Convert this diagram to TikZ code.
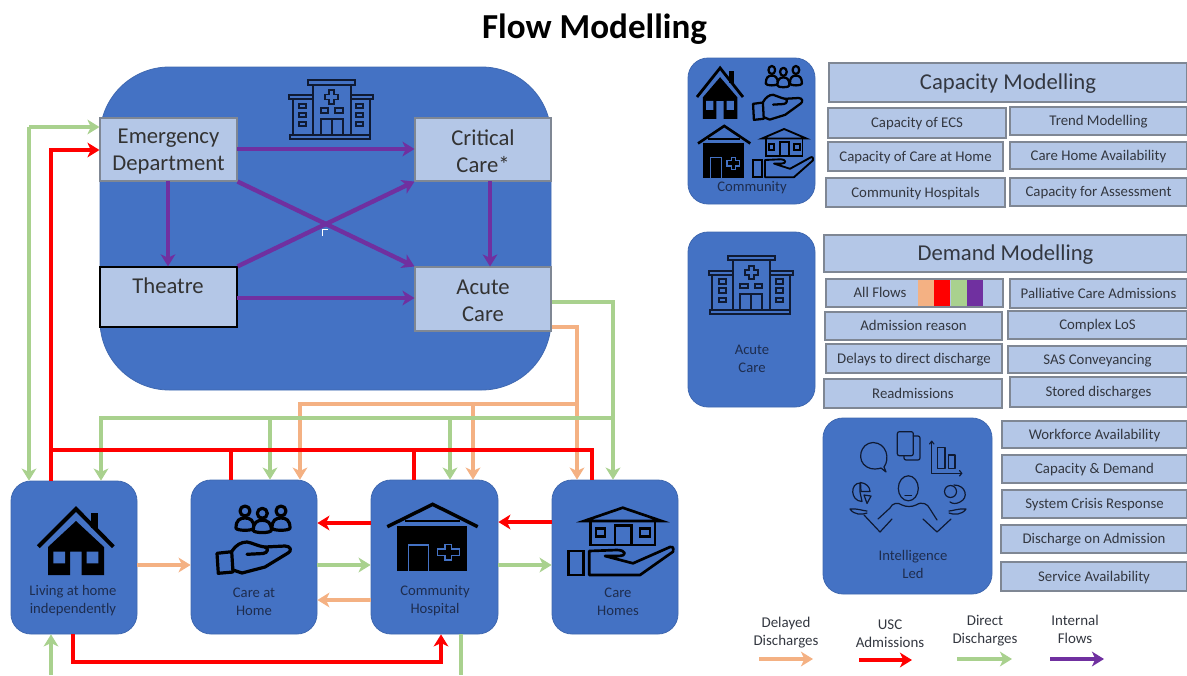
\documentclass[tikz,border=0pt]{standalone}
\usepackage{fontspec}
\setmainfont{Carlito}
\usetikzlibrary{arrows.meta}
\definecolor{panelblue}{HTML}{4472C4}
\definecolor{panelline}{HTML}{3F68B0}
\definecolor{lightblue}{HTML}{B4C7E7}
\definecolor{boxline}{HTML}{7F8794}
\definecolor{flowdelay}{HTML}{F4B183}
\definecolor{flowusc}{HTML}{FF0000}
\definecolor{flowdirect}{HTML}{A9D18E}
\definecolor{flowinternal}{HTML}{7030A0}
\definecolor{boxtext}{HTML}{333740}
\definecolor{paneltext}{HTML}{1E2D4F}
\definecolor{iconline}{HTML}{0F1A33}
\newcommand\bx[7]{\node[#2,minimum width={(#5-#3)*0.75pt},minimum height={(#6-#4)*0.75pt}] (#1) at ({(#3+#5)/2},{(#4+#6)/2}) {#7};}
\newcommand\bustglyph[2]{%
  \begin{scope}[shift={(#1,#2)}]
    \draw[fill=panelblue] (-9,17) .. controls (-9,9) and (-5,7) .. (0,7) .. controls (5,7) and (9,9) .. (9,17) .. controls (9,20) and (-9,20) .. (-9,17) -- cycle;
    \draw[fill=panelblue] (0,0) circle[radius=5];
  \end{scope}}
\tikzset{
  panel/.style={draw=panelline,line width=.6pt,fill=panelblue,rounded corners=15pt,inner sep=0pt},
  bigpanel/.style={panel,rounded corners=52pt},
  lightbox/.style={draw=boxline,line width=.9pt,fill=lightblue,inner sep=0pt,align=center,text=boxtext,text height=8pt,text depth=1pt,font=\fontsize{11.1}{12}\selectfont},
  headbox/.style={lightbox,text height=11pt,text depth=1pt,font=\fontsize{17}{18}\selectfont},
  carebox/.style={draw=boxline,line width=.8pt,fill=lightblue,inner sep=0pt,align=center,text=black!80,text height=34pt,font=\fontsize{17}{20.3}\selectfont},
  blackbox/.style={carebox,draw=black,line width=1pt},
  panellabel/.style={align=center,text=paneltext,inner sep=0pt,font=\fontsize{11}{13.5}\selectfont},
  legendlabel/.style={align=center,text=boxtext,inner sep=0pt,font=\fontsize{11.2}{13.5}\selectfont},
  flow/.style={line width=3.3pt,line cap=butt,line join=miter},
  tipped/.style={-{Stealth[length=9pt,width=11pt,inset=2.5pt]}},
  delayflow/.style={flow,draw=flowdelay},
  uscflow/.style={flow,draw=flowusc},
  directflow/.style={flow,draw=flowdirect},
  internalflow/.style={flow,draw=flowinternal},
  strip/.style={inner sep=0pt,minimum width=12pt,minimum height=19.5pt},
  pics/houseicon/.style={code={
    \fill[black] (33,52)--(61,26)--(89,52)--(89,80)--(66.7,80)--(66.7,56.7)--(55,56.7)--(55,80)--(33,80)--cycle;
    \fill[panelblue] (38.3,56.7) rectangle (50,68.3) (71.7,56.7) rectangle (83.3,68.3);
    \fill[black] (76,17.7) rectangle (83.3,33);
    \draw[black] (23.3,51.7)--(61,14)--(98.3,51.7);
  }},
  pics/handicon/.style={code={
    \begin{scope}[draw=black,line join=round,line cap=round]
    \bustglyph{40}{16}\bustglyph{76}{16}\bustglyph{57.3}{18.3}
    \draw (12,58.3)--(26.7,56.7)--(28,77)--(13.3,78.3)--cycle;
    \draw (27,56) .. controls (31,50) and (36,47) .. (42,47) .. controls (48,48) and (52,51) .. (60,52) -- (80,51) .. controls (86,51) and (87,56) .. (83,58) -- (60,72) -- (37,78) -- (28,75);
    \draw (42,59.3) -- (58,58.5) .. controls (63,58) and (64,53) .. (60,52);
    \end{scope}
  }},
  pics/cottageicon/.style={code={
    \fill[black] (16.7,30.7) rectangle (87.3,76);
    \draw[black,line join=miter] (7.3,31.7)--(52.7,9.3)--(97.7,31.7);
    \draw[black,line width=.9pt] (25,26)--(80,26);
    \draw[panelblue,line width=.9pt] (28.3,76)--(28.3,50)--(48.3,50)--(48.3,76);
    \draw[panelblue,line width=.9pt] (65,49.5)--(71.6,49.5)--(71.6,54)--(79.3,54)--(79.3,60.6)--(71.6,60.6)--(71.6,65)--(65,65)--(65,60.6)--(57.3,60.6)--(57.3,54)--(65,54)--cycle;
  }},
  pics/carehomeicon/.style={code={
    \begin{scope}[draw=black,line join=miter]
    \draw (24,26)--(62.7,12.7)--(101.7,26)--cycle;
    \draw (30.7,26) rectangle (95,50);
    \draw (55,30.7) rectangle (71.7,50);
    \draw (36,33.3) rectangle (45,41.7);
    \draw (80,33.3) rectangle (90,41.7);
    \draw (8.3,56) rectangle (23.3,80);
    \draw[line join=round] (29.3,56)--(29.3,80)--(80,80)--(113,56.7) .. controls (114,52) and (112,51) .. (110,52) -- (73,68.3) -- (45,61) -- (58,61) .. controls (68,61) and (66,55) .. (57,55) -- cycle;
    \end{scope}
  }},
  pics/hospitalicon/.style={code={
    \begin{scope}[draw=iconline,fill=none,line join=miter]
    \draw (10,62.7) rectangle (90,66.7);
    \draw (28.3,8.3) rectangle (75,12.7);
    \draw (33.3,62.7)--(33.3,12.7) (70.7,62.7)--(70.7,12.7);
    \draw (9.3,23.3) rectangle (33.3,27.3);
    \draw (70.7,23.3) rectangle (93.3,27.3);
    \draw (12.7,27.3)--(12.7,62.7) (90,27.3)--(90,62.7);
    \draw (19,31.7) rectangle (26,36) (19,40.7) rectangle (26,45) (19,50) rectangle (26,54.3);
    \draw (76,31.7) rectangle (83.3,36) (76,40.7) rectangle (83.3,45) (76,50) rectangle (83.3,54.3);
    \draw (40.7,36) rectangle (48.3,40.7) (55,36) rectangle (62.7,40.7);
    \draw (40.7,62.7)--(40.7,46.7)--(62.7,46.7)--(62.7,62.7) (51.7,46.7)--(51.7,62.7);
    \draw (49.2,18.3)--(54.2,18.3)--(54.2,22.5)--(58.4,22.5)--(58.4,27.5)--(54.2,27.5)--(54.2,31.7)--(49.2,31.7)--(49.2,27.5)--(45,27.5)--(45,22.5)--(49.2,22.5)--cycle;
    \end{scope}
  }},
  pics/analysticon/.style={code={
    \begin{scope}[draw=iconline,line join=round,line cap=round]
    % speech bubble
    \draw (44,42) .. controls (50,34) and (47,18) .. (33,17.5) .. controls (20,18) and (16,36) .. (27,42) .. controls (32,45) and (38,44) .. (41,43) -- (46,47) -- (44,42);
    % documents
    \draw[rounded corners=1.5pt] (57.3,6.7) rectangle (73.3,30.7);
    \draw[rounded corners=1.5pt] (73.3,11)--(80,11)--(80,35)--(64,35)--(64,30.7);
    % chart
    \draw (121.7,48.3)--(91.7,48.3)--(91.7,16.7);
    \draw (89.5,19)--(91.7,16.2)--(93.9,19);
    \draw (119.5,45.5)--(121.7,48.3)--(119.5,51);
    \draw (97.3,43.3)--(97.3,22.7)--(105,22.7)--(105,43.3)--cycle;
    \draw (108.3,43.3)--(108.3,30)--(115,30)--(115,43.3)--cycle;
    % pie
    \draw (20,58) .. controls (10,58) and (10,76) .. (22,76.5) -- (20,67) -- cycle;
    \draw (20.5,57.5) .. controls (26,58) and (30,62) .. (30,66.5) -- (21,66.5) -- cycle;
    \draw (24,70)--(31,71)--(27,78.5)--cycle;
    % head
    \draw (68.3,63.3) ellipse [x radius=10,y radius=12.5];
    \draw (65,70.5)--(71.5,70.5);
    % rings
    \draw (110.5,66.5) circle[radius=6];
    \draw (114,60) .. controls (126,60) and (129,73) .. (120,77) .. controls (116,79) and (113,79) .. (110,77);
    % body
    \draw (38,94)--(50,83) .. controls (52,78) and (58,77) .. (62,80) .. controls (66,82) and (72,82) .. (76,80) .. controls (82,76) and (88,79) .. (90,84)--(97,95);
    \draw (10,84) .. controls (16,83) and (24,86) .. (27,86) (10,84) .. controls (14,90) and (22,90) .. (27,88);
    \draw (24,90)--(40,107)--(52,94);
    \draw (83,94)--(97,107)--(111,94);
    \draw (126,84) .. controls (120,83) and (112,86) .. (109,86) (126,84) .. controls (122,90) and (114,90) .. (109,88);
    \end{scope}
  }}
}
\begin{document}
\begin{tikzpicture}[x=0.75pt,y=-0.75pt]
\useasboundingbox (0,0) rectangle (1187,675);

\node[inner sep=0pt,font=\fontsize{26.3}{30}\selectfont\bfseries] (title) at (594.5,29) {Flow Modelling};

% main panel and its boxes
\bx{main}{bigpanel}{100}{67}{551}{390}{}
\pic[line width=1.4pt] at (280,72) {hospitalicon};
\bx{ed}{carebox}{100}{118}{237}{181}{Emergency\\Department}
\bx{cc}{carebox}{415}{118}{551}{181}{Critical\\Care*}
\bx{th}{blackbox}{100}{267}{237}{327}{}
\node[inner sep=0pt,text=black!80,font=\fontsize{17}{20.3}\selectfont] (thlabel) at (168,286) {Theatre};
\bx{ac}{carebox}{415}{267}{551}{331}{Acute\\Care}

% internal flows
\coordinate (edR) at (237,149);
\coordinate (thR) at (237,298);
\coordinate (edB) at (168,181);
\coordinate (ccB) at (490,181);
\draw[internalflow,tipped] (edR) -- (cc.west |- edR);
\draw[internalflow,tipped] (thR) -- (ac.west |- thR);
\draw[internalflow,tipped] (edB) -- (edB |- th.north);
\draw[internalflow,tipped] (ccB) -- (ccB |- ac.north);
\draw[internalflow,tipped] (ed.south east) -- (ac.north west);
\draw[internalflow,tipped] (th.north east) -- (cc.south west);
\coordinate (cursorA) at (322.5,236);
\coordinate (cursorB) at (322.5,229.5);
\coordinate (cursorC) at (328,229.5);
\draw[white,line width=1pt] (cursorA) -- (cursorB) -- (cursorC);

% lower panels
\bx{lh}{panel}{11}{481}{137}{634}{}
\bx{ch}{panel}{191}{480}{317}{634}{}
\bx{hs}{panel}{371}{480}{498}{634}{}
\bx{cr}{panel}{552}{480}{678}{634}{}
\pic[line width=3pt] at (15,495) {houseicon};
\pic[line width=2.4pt] at (205,495) {handicon};
\pic[line width=2.6pt] at (380,495) {cottageicon};
\pic[line width=2pt] at (560,495) {carehomeicon};
\node[panellabel] (lhlabel) at (73,601) {Living at home\\independently};
\node[panellabel] (chlabel) at (254,602) {Care at\\Home};
\node[panellabel] (hslabel) at (435,601) {Community\\Hospital};
\node[panellabel] (crlabel) at (618,602) {Care\\Homes};

% delayed discharges
\coordinate (dCorner) at (577,327);
\coordinate (dRail) at (577,404);
\coordinate (dEnd) at (300,404);
\coordinate (dMid) at (473,404);
\draw[delayflow] (ac.east |- dCorner) -- (dCorner) -- (dRail);
\draw[delayflow,tipped] (dRail) -- (dRail |- cr.north);
\draw[delayflow,tipped] (dRail) -- (dEnd) -- (dEnd |- ch.north);
\draw[delayflow,tipped] (dMid) -- (dMid |- hs.north);
\coordinate (dA) at (137,565);
\coordinate (dB) at (371,600);
\draw[delayflow,tipped] (dA) -- (ch.west |- dA);
\draw[delayflow,tipped] (dB) -- (ch.east |- dB);

% direct discharges
\coordinate (gCorner) at (613,302);
\coordinate (gRail) at (613,418);
\coordinate (gEnd) at (101,418);
\coordinate (gMidA) at (270,418);
\coordinate (gMidB) at (450,418);
\coordinate (gEd) at (29,127);
\draw[directflow] (ac.east |- gCorner) -- (gCorner) -- (gRail);
\draw[directflow,tipped] (gRail) -- (gRail |- cr.north);
\draw[directflow,tipped] (gRail) -- (gEnd) -- (gEnd |- lh.north);
\draw[directflow,tipped] (gMidA) -- (gMidA |- ch.north);
\draw[directflow,tipped] (gMidB) -- (gMidB |- hs.north);
\draw[directflow,tipped] (gEd) -- (ed.west |- gEd);
\draw[directflow,tipped] (gEd) -- (gEd |- lh.north);
\coordinate (gA) at (317,565);
\coordinate (gB) at (498,565);
\draw[directflow,tipped] (gA) -- (hs.west |- gA);
\draw[directflow,tipped] (gB) -- (cr.west |- gB);
\coordinate (gIn) at (51,675);
\coordinate (gOut) at (461,675);
\draw[directflow,tipped] (gIn) -- (gIn |- lh.south);
\draw[directflow] (gOut |- hs.south) -- (gOut);

% USC admissions
\coordinate (rTop) at (51,150);
\coordinate (rRail) at (51,450);
\coordinate (rEnd) at (592,450);
\coordinate (rMidA) at (231,450);
\coordinate (rMidB) at (414,450);
\draw[uscflow,tipped] (rTop |- lh.north) -- (rTop) -- (ed.west |- rTop);
\draw[uscflow] (rRail) -- (rEnd) -- (rEnd |- cr.north);
\draw[uscflow] (rMidA) -- (rMidA |- ch.north);
\draw[uscflow] (rMidB) -- (rMidB |- hs.north);
\coordinate (rA) at (371,523);
\coordinate (rB) at (552,522);
\draw[uscflow,tipped] (rA) -- (ch.east |- rA);
\draw[uscflow,tipped] (rB) -- (hs.east |- rB);
\coordinate (rLow) at (73,662);
\coordinate (rLowEnd) at (441,662);
\draw[uscflow,tipped] (rLow |- lh.south) -- (rLow) -- (rLowEnd) -- (rLowEnd |- hs.south);

% community panel
\bx{comm}{panel}{688}{58}{815}{204}{}
\pic[line width=2.1pt,xscale=.613,yscale=.77] at (682.7,57.2) {houseicon};
\pic[line width=1.7pt,xscale=.67,yscale=.8] at (745,57.2) {handicon};
\pic[line width=2pt,xscale=.578,yscale=.78] at (693.8,118.7) {cottageicon};
\pic[line width=1.4pt,xscale=.571,yscale=.716] at (748.3,119.9) {carehomeicon};
\node[panellabel] (commlabel) at (752,188) {Community};

% acute panel
\bx{acute}{panel}{688}{232}{815}{407}{}
\pic[line width=1.4pt] at (699.7,247.7) {hospitalicon};
\node[panellabel] (acutelabel) at (752,359) {Acute\\Care};

% intelligence panel
\bx{intel}{panel}{823}{418}{992}{594}{}
\pic[line width=.9pt] at (840,425) {analysticon};
\node[panellabel] (intellabel) at (913,564) {Intelligence\\Led};

% capacity boxes
\bx{capH}{headbox}{829}{63}{1187}{102}{Capacity Modelling}
\bx{c1}{lightbox}{828}{108}{1006}{138}{Capacity of ECS}
\bx{c2}{lightbox}{1010}{107}{1187}{135}{Trend Modelling}
\bx{c3}{lightbox}{828}{142}{1003}{171}{Capacity of Care at Home}
\bx{c4}{lightbox}{1010}{142}{1187}{169}{Care Home Availability}
\bx{c5}{lightbox}{826}{178}{1005}{207}{Community Hospitals}
\bx{c6}{lightbox}{1010}{178}{1187}{206}{Capacity for Assessment}

% demand boxes
\bx{demH}{headbox}{824}{235}{1187}{272}{Demand Modelling}
\bx{d1}{lightbox}{826}{279}{1003}{307}{}
\node[lightbox,draw=none,fill=none,inner sep=0pt] (allflows) at (880,293) {All Flows};
\node[strip,fill=flowdelay] (s1) at (926,293) {};
\node[strip,fill=flowusc] (s2) at (942,293) {};
\node[strip,fill=flowdirect] (s3) at (958.5,293) {};
\node[strip,fill=flowinternal] (s4) at (975,293) {};
\bx{d2}{lightbox}{1010}{279}{1187}{308}{Palliative Care Admissions}
\bx{d3}{lightbox}{825}{312}{1002}{340}{Admission reason}
\bx{d4}{lightbox}{1008}{311}{1187}{339}{Complex LoS}
\bx{d5}{lightbox}{826}{344}{1002}{373}{Delays to direct discharge}
\bx{d6}{lightbox}{1008}{346}{1187}{373}{SAS Conveyancing}
\bx{d7}{lightbox}{824}{379}{1002}{408}{Readmissions}
\bx{d8}{lightbox}{1010}{377}{1187}{407}{Stored discharges}

% intelligence boxes
\bx{i1}{lightbox}{1002}{421}{1187}{448}{Workforce Availability}
\bx{i2}{lightbox}{1002}{455}{1187}{483}{Capacity \& Demand}
\bx{i3}{lightbox}{1002}{490}{1187}{518}{System Crisis Response}
\bx{i4}{lightbox}{1001}{525}{1187}{553}{Discharge on Admission}
\bx{i5}{lightbox}{1001}{562}{1187}{591}{Service Availability}

% legend
\node[legendlabel] (l1) at (786,633) {Delayed\\Discharges};
\node[legendlabel] (l2) at (890,634) {USC\\Admissions};
\node[legendlabel] (l3) at (985,631) {Direct\\Discharges};
\node[legendlabel] (l4) at (1075,629) {Internal\\Flows};
\coordinate (k1a) at (759,659); \coordinate (k1b) at (813,659);
\coordinate (k2a) at (859,660); \coordinate (k2b) at (912,660);
\coordinate (k3a) at (957,659); \coordinate (k3b) at (1012,659);
\coordinate (k4a) at (1050,659); \coordinate (k4b) at (1104,659);
\draw[delayflow,tipped] (k1a) -- (k1b);
\draw[uscflow,tipped] (k2a) -- (k2b);
\draw[directflow,tipped] (k3a) -- (k3b);
\draw[internalflow,tipped] (k4a) -- (k4b);
\end{tikzpicture}
\end{document}
